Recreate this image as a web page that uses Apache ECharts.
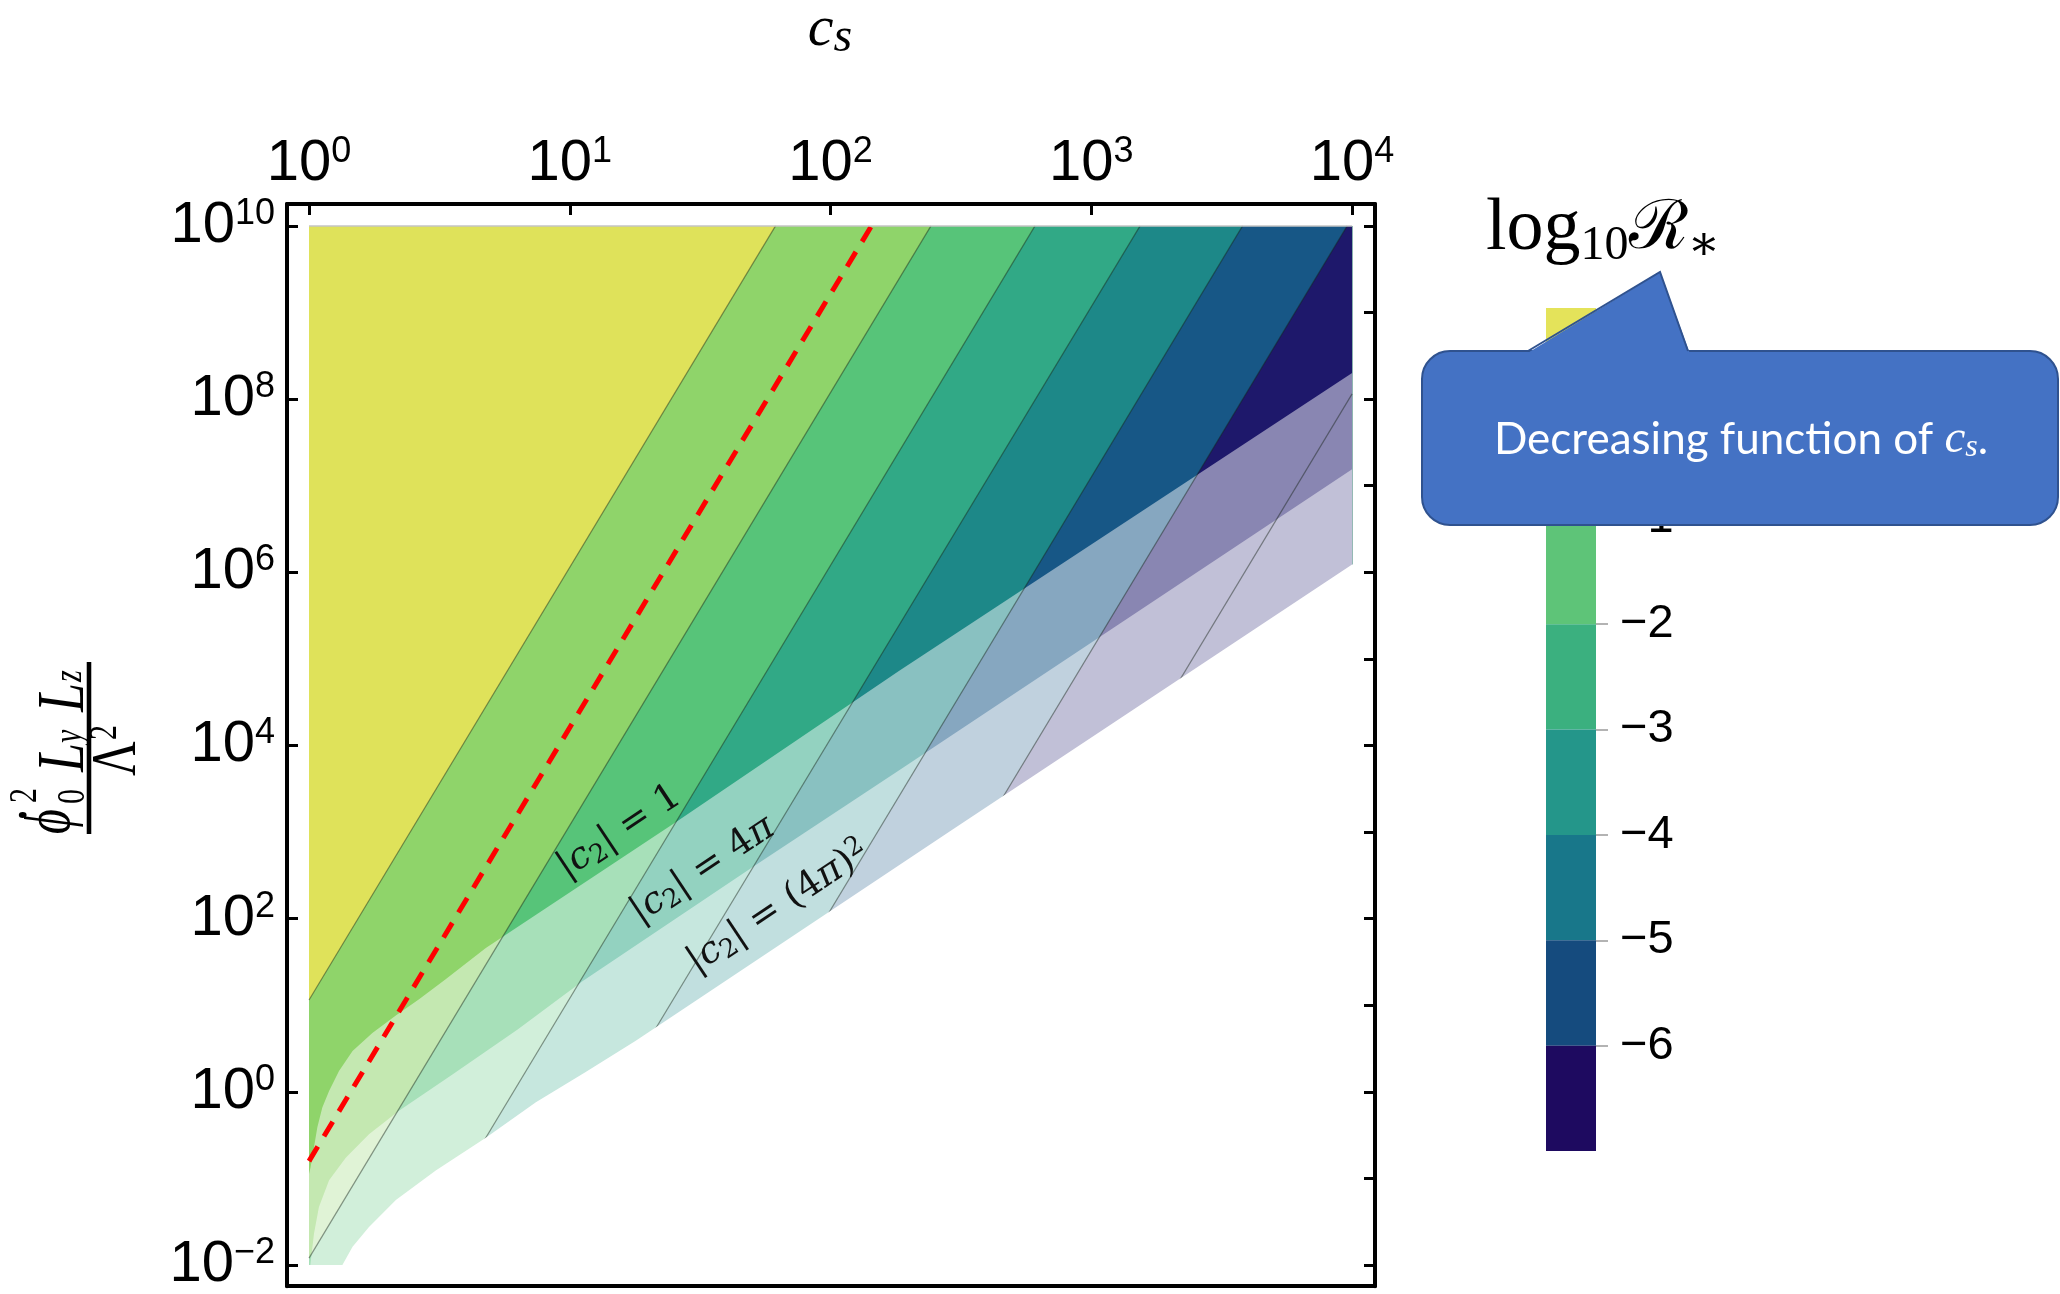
<!DOCTYPE html>
<html><head><meta charset="utf-8">
<script src="https://cdn.jsdelivr.net/npm/echarts@6/dist/echarts.min.js"></script>
<style>html,body{margin:0;padding:0;background:#fff}#c{width:2060px;height:1294px}</style>
</head><body><div id="c"></div>
<script>
// ---------- DATA (x = log10 c_s, y = log10 of phi0dot^2 Ly Lz / Lambda^2) ----------
const xTickValues = [0, 1, 2, 3, 4];
const yLabelValues = [-2, 0, 2, 4, 6, 8, 10];
const yRightTicks = [-2, -1, 0, 1, 2, 3, 4, 5, 6, 7, 8, 9, 10];
const regionX = [0, 4];
const regionY = [-2, 10];
// filled contour bands, from upper-left (highest log10 R*) to lower-right
const bandColors = ['#dfe25a', '#8fd46a', '#57c479', '#31a986', '#1d8888', '#175786', '#1e186b'];
// contour boundaries between successive bands: upper end and lower end
const contourTop = [[1.789, 10], [2.385, 10], [2.784, 10], [3.187, 10], [3.58, 10], [3.981, 10], [4, 8.06]];
const contourBottom = [[0, 1.06], [0, -1.92], [0.384, -2], [0.782, -2], [1.18, -2], [1.58, -2], [1.988, -2]];
// |c2| = 1 boundary
const curveC2One = [[0, -0.95], [0.006, -0.87], [0.019, -0.64], [0.032, -0.41], [0.051, -0.18], [0.077, 0.01],
  [0.115, 0.24], [0.167, 0.47], [0.243, 0.68], [0.333, 0.88], [0.422, 1.07], [0.524, 1.3], [0.678, 1.66],
  [1.409, 3.12], [2.262, 4.86], [4, 8.3]];
// |c2| = 4 pi boundary
const curveC2FourPi = [[0.005, -2.0], [0.019, -1.64], [0.038, -1.33], [0.077, -1.02], [0.141, -0.76],
  [0.23, -0.49], [0.345, -0.22], [0.55, 0.2], [0.8, 0.72], [1.05, 1.28], [1.703, 2.6], [2.266, 3.72], [4, 7.19]];
// |c2| = (4 pi)^2 boundary (lower edge of the shaded region)
const curveC2FourPiSq = [[0.128, -2.0], [0.167, -1.79], [0.23, -1.56], [0.333, -1.25], [0.486, -0.91],
  [0.678, -0.53], [0.87, -0.12], [1.061, 0.23], [1.253, 0.59], [2.458, 3.01], [4, 6.09]];
const redLine = [[0, -0.8], [2.157, 10]];
const c2Slope = 2;
const c2LabelTexts = ['{n||}{i|c}{s|2}{n|| = 1}', '{n||}{i|c}{s|2}{n|| = 4}{i|π}', '{n||}{i|c}{s|2}{n|| = (4}{i|π}{n|)}{p|2}'];
const c2LabelPos = [[1.19, 3.0], [1.51, 2.56], [1.80, 2.13]];
// colour bar
const cbLevels = [1, 0, -1, -2, -3, -4, -5, -6, -7];
const cbColors = ['#e4e35a', '#8fd46a', '#5ec478', '#3bb07f', '#24968a', '#18778a', '#154b7e', '#1e0a60'];
const cbLabelValues = [-6, -5, -4, -3, -2, -1, 0];

// ---------- build helpers ----------
const PAD = 0.02; // small overdraw so that white masks leave no seams
function rightOf(top, bottom) {
  const pts = [top];
  if (top[1] >= regionY[1]) pts.push([regionX[1], regionY[1]]);
  pts.push([regionX[1], regionY[0]]);
  if (bottom[0] <= regionX[0] && bottom[1] > regionY[0]) pts.push([regionX[0], regionY[0]]);
  pts.push(bottom);
  return pts;
}
function below(curve) { return curve.concat([[regionX[1], regionY[0]], [regionX[0], regionY[0]]]); }
function belowPadded(curve) {
  const last = curve[curve.length - 1];
  return curve.concat([[regionX[1] + PAD, last[1]], [regionX[1] + PAD, regionY[0] - PAD], [regionX[0], regionY[0] - PAD], [regionX[0], regionY[0]]]);
}

const bandPolys = [{pts: [[regionX[0], regionY[0]], [regionX[0], regionY[1]], [regionX[1], regionY[1]], [regionX[1], regionY[0]]], fill: bandColors[0]}];
contourTop.forEach((t, k) => bandPolys.push({pts: rightOf(t, contourBottom[k]), fill: bandColors[k + 1]}));
const overlayPolys = [{pts: below(curveC2One), fill: '#ffffff', opacity: 0.48}, {pts: below(curveC2FourPi), fill: '#ffffff', opacity: 0.48}];
const whitePolys = [{pts: belowPadded(curveC2FourPiSq), fill: '#ffffff', opacity: 1}];

function polySeries(polys, z) {
  return {
    type: 'custom', xAxisIndex: 0, yAxisIndex: 0, z: z, silent: true, animation: false,
    data: polys.map(p => p.pts[0]),
    renderItem: (params, api) => {
      const p = polys[params.dataIndex];
      return {type: 'polygon', shape: {points: p.pts.map(q => api.coord(q))},
        style: {fill: p.fill, opacity: p.opacity == null ? 1 : p.opacity, stroke: null}};
    }
  };
}
function lineSeries(lines, z, style) {
  return {
    type: 'custom', xAxisIndex: 0, yAxisIndex: 0, z: z, silent: true, animation: false,
    data: lines.map(l => l[0]),
    renderItem: (params, api) => {
      const l = lines[params.dataIndex];
      return {type: 'polyline', shape: {points: l.map(q => api.coord(q))}, style: Object.assign({fill: null}, style)};
    }
  };
}

const contourLines = contourTop.map((t, k) => [t, contourBottom[k]]);

const labelFam = '"DejaVu Serif", "Liberation Serif", serif';
const labelSeries = {
  type: 'custom', xAxisIndex: 0, yAxisIndex: 0, z: 9, silent: true, animation: false,
  data: c2LabelPos,
  renderItem: (params, api) => {
    const p0 = api.coord([0, 0]), p1 = api.coord([1, c2Slope]);
    const ang = Math.atan2(p0[1] - p1[1], p1[0] - p0[0]);
    const c = api.coord(c2LabelPos[params.dataIndex]);
    return {type: 'text', x: c[0], y: c[1], rotation: ang,
      style: {text: c2LabelTexts[params.dataIndex], align: 'center', verticalAlign: 'middle', fill: '#111',
        rich: {
          n: {fontSize: 37, fontFamily: labelFam, lineHeight: 42, fill: '#111'},
          i: {fontSize: 37, fontFamily: labelFam, fontStyle: 'italic', lineHeight: 42, fill: '#111'},
          s: {fontSize: 26, fontFamily: labelFam, lineHeight: 20, verticalAlign: 'bottom', fill: '#111'},
          p: {fontSize: 26, fontFamily: labelFam, lineHeight: 20, verticalAlign: 'top', fill: '#111'}
        }}};
  }
};

const cbSeries = {
  type: 'custom', xAxisIndex: 2, yAxisIndex: 2, z: 2, silent: true, animation: false,
  data: cbColors.map((c, i) => [0, cbLevels[i]]),
  renderItem: (params, api) => {
    const i = params.dataIndex;
    const a = api.coord([0, cbLevels[i]]), b = api.coord([1, cbLevels[i + 1]]);
    return {type: 'rect', shape: {x: a[0], y: a[1], width: b[0] - a[0], height: b[1] - a[1]}, style: {fill: cbColors[i]}};
  }
};

const sans = '"Liberation Sans", Arial, sans-serif';
const tickRich = {
  b: {fontSize: 58, fontFamily: sans, lineHeight: 60, color: '#000'},
  s: {fontSize: 36, fontFamily: sans, lineHeight: 28, verticalAlign: 'top', color: '#000'}
};
const fmtPow = v => '{b|10}{s|' + (v < 0 ? '−' + Math.abs(v) : v) + '}';
const XMIN = -0.0844, XMAX = 4.0878, YMIN = -2.244, YMAX = 10.253;
const frame = {show: true, onZero: false, lineStyle: {color: '#000', width: 4}};

const serif = '"Liberation Serif", "DejaVu Serif", serif';
const tx = (text, x, y, size, italic, va) => ({type: 'text', x: x, y: y, style: {text: text, fontSize: size, fontFamily: serif,
  fontStyle: italic ? 'italic' : 'normal', fill: '#000', verticalAlign: va, textVerticalAlign: va}});
const option = {
  animation: false,
  backgroundColor: '#ffffff',
  grid: [
    {left: 287, right: 685, top: 204, bottom: 4, containLabel: false},
    {left: 1546, width: 50, top: 308, height: 843}
  ],
  xAxis: [
    {type: 'value', gridIndex: 0, position: 'top', min: XMIN, max: XMAX, z: 20,
      axisLine: frame, splitLine: {show: false},
      axisTick: {show: true, inside: true, length: 11, customValues: xTickValues, lineStyle: {color: '#000', width: 3}},
      axisLabel: {show: true, customValues: xTickValues, formatter: fmtPow, rich: tickRich, margin: 10}},
    {type: 'value', gridIndex: 0, position: 'bottom', min: XMIN, max: XMAX, z: 20,
      axisLine: frame, splitLine: {show: false}, axisTick: {show: false}, axisLabel: {show: false}},
    {type: 'value', gridIndex: 1, min: 0, max: 1, show: false}
  ],
  yAxis: [
    {type: 'value', gridIndex: 0, position: 'left', min: YMIN, max: YMAX, z: 20,
      axisLine: frame, splitLine: {show: false},
      axisTick: {show: true, inside: true, length: 11, customValues: yLabelValues, lineStyle: {color: '#000', width: 3}},
      axisLabel: {show: true, customValues: yLabelValues, formatter: fmtPow, rich: tickRich, margin: 12}},
    {type: 'value', gridIndex: 0, position: 'right', min: YMIN, max: YMAX, z: 20,
      axisLine: frame, splitLine: {show: false},
      axisTick: {show: true, inside: true, length: 11, customValues: yRightTicks, lineStyle: {color: '#000', width: 3}},
      axisLabel: {show: false}},
    {type: 'value', gridIndex: 1, position: 'right', min: -7, max: 1, interval: 1,
      axisLine: {show: false, onZero: false}, splitLine: {show: false},
      axisTick: {show: true, inside: false, length: 12, customValues: cbLabelValues, lineStyle: {color: '#b3b3b3', width: 2}},
      axisLabel: {show: true, customValues: cbLabelValues, margin: 24, fontSize: 47, fontFamily: sans, color: '#000',
        formatter: v => (v < 0 ? '−' + Math.abs(v) : String(v))}}
  ],
  series: [
    polySeries(bandPolys, 2),
    polySeries(overlayPolys, 3),
    lineSeries(contourLines, 4, {stroke: 'rgba(20,30,20,0.45)', lineWidth: 1.2}),
    polySeries(whitePolys, 5),
    lineSeries([redLine], 6, {stroke: '#ff0000', lineWidth: 5, lineDash: [17, 12]}),
    lineSeries([[[regionX[0], regionY[1]], [regionX[1], regionY[1]]]], 7, {stroke: '#c4c4c4', lineWidth: 1.5}),
    labelSeries,
    cbSeries
  ],
  graphic: [
    // top axis title c_s
    {type: 'text', x: 830, y: -2, z: 50, style: {text: '{c|c}{s|s}', align: 'center', verticalAlign: 'top', textAlign: 'center', textVerticalAlign: 'top',
      rich: {c: {fontSize: 58, fontFamily: serif, fontStyle: 'italic', lineHeight: 64, fill: '#000'},
             s: {fontSize: 48, fontFamily: serif, fontStyle: 'italic', lineHeight: 36, verticalAlign: 'bottom', fill: '#000'}}}},
    // colour bar title
    {type: 'text', x: 1486, y: 190, z: 50, style: {text: '{l|log}{s|10}{r|ℛ}{a|∗}', align: 'left', verticalAlign: 'top', textAlign: 'left', textVerticalAlign: 'top',
      rich: {l: {fontSize: 74, fontFamily: serif, lineHeight: 80, fill: '#000'},
             s: {fontSize: 48, fontFamily: serif, lineHeight: 44, verticalAlign: 'bottom', fill: '#000'},
             r: {fontSize: 68, fontFamily: '"DejaVu Serif", serif', lineHeight: 80, fill: '#000'},
             a: {fontSize: 48, fontFamily: serif, lineHeight: 48, verticalAlign: 'bottom', fill: '#000'}}}},
    // y axis title (fraction), rotated; local +x reads upward, local +y points right
    {type: 'group', x: 89, y: 748, rotation: Math.PI / 2, scaleY: 1.3, z: 50, children: [
      {type: 'line', shape: {x1: -86, y1: 0, x2: 86, y2: 0}, style: {stroke: '#000', lineWidth: 3.5}},
      tx('ϕ', -86, -4, 48, true, 'bottom'),
      {type: 'circle', shape: {cx: -67, cy: -51, r: 3}, style: {fill: '#000'}},
      tx('0', -56, 3, 30, false, 'bottom'),
      tx('2', -55, -34, 30, false, 'bottom'),
      tx('L', -24, 8, 52, true, 'bottom'),
      tx('y', 5, 1, 30, true, 'bottom'),
      tx('L', 36, 8, 52, true, 'bottom'),
      tx('z', 66, 1, 30, true, 'bottom'),
      tx('Λ', -28, -1.5, 48, false, 'top'),
      tx('2', 8, -2, 30, false, 'top')
    ]},
    // callout
    {type: 'rect', z: 100, shape: {x: 1422, y: 351, width: 636, height: 174, r: 28}, style: {fill: '#4472C4', stroke: '#2F528F', lineWidth: 2}},
    {type: 'polygon', z: 101, shape: {points: [[1526, 354], [1660, 272], [1690, 354]]}, style: {fill: '#4472C4'}},
    {type: 'polyline', z: 102, shape: {points: [[1528, 351], [1660, 272], [1688, 351]]}, style: {stroke: '#2F528F', lineWidth: 2, fill: null}},
    {type: 'text', x: 1741, y: 440, z: 103, style: {text: '{n|Decreasing function of }{c|c}{s|s}{n|.}', align: 'center', verticalAlign: 'middle', textAlign: 'center', textVerticalAlign: 'middle',
      rich: {n: {fontSize: 44, fontFamily: 'Lato, "Open Sans", sans-serif', lineHeight: 48, fill: '#ffffff'},
             c: {fontSize: 47, fontFamily: serif, fontStyle: 'italic', lineHeight: 48, fill: '#ffffff'},
             s: {fontSize: 32, fontFamily: serif, fontStyle: 'italic', lineHeight: 26, verticalAlign: 'bottom', fill: '#ffffff'}}}}
  ]
};
const chart = echarts.init(document.getElementById('c'));
chart.setOption(option);
</script></body></html>
